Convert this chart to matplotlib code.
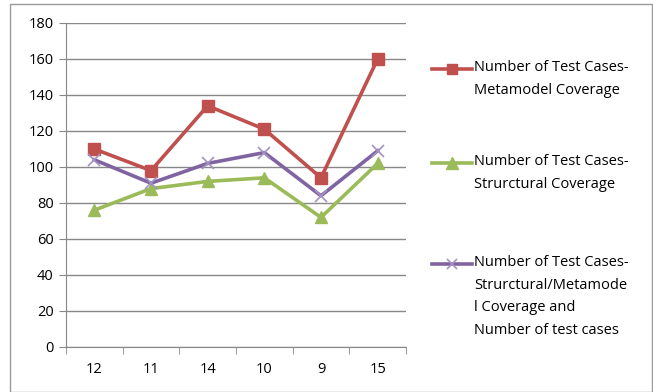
import numpy as np
import matplotlib
matplotlib.use("Agg")
import matplotlib.pyplot as plt
from matplotlib.lines import Line2D
from matplotlib.patches import Rectangle

categories = ["12", "11", "14", "10", "9", "15"]
metamodel = [110, 98, 134, 121, 94, 160]
structural = [76, 88, 92, 94, 72, 102]
combined = [104, 91, 102, 108, 84, 109]

labels = [
    "Number of Test Cases-\nMetamodel Coverage",
    "Number of Test Cases-\nStrurctural Coverage",
    "Number of Test Cases-\nStrurctural/Metamode\nl Coverage and\nNumber of test cases",
]

plt.rcParams["font.family"] = ["Open Sans", "DejaVu Sans"]

fig = plt.figure(figsize=(6.53, 3.92), dpi=100)
ax = fig.add_axes([66 / 653, 1 - 347 / 392, 340 / 653, 324 / 392])

x = np.arange(len(categories))
colors = ["#C0504D", "#9BBB59", "#8064A2"]
markers = [
    dict(marker="s", markersize=8, mec="#C0504D"),
    dict(marker="^", markersize=9, mec="#9BBB59"),
    dict(marker="x", markersize=8, mec="#A393C4", mew=1.2),
]
for vals, c, mk in zip([metamodel, structural, combined], colors, markers):
    ax.plot(x, vals, lw=2.6, color=c, solid_joinstyle="round", **mk)

ax.set_xlim(-0.5, 5.5)
ax.set_ylim(0, 180)
ax.set_yticks(range(0, 181, 20))
ax.set_xticks(x)
ax.set_xticklabels(categories)
ax.set_xticks(np.arange(-0.5, 6, 1), minor=True)
ax.tick_params(axis="x", which="major", length=0, pad=11, labelsize=10.5)
ax.tick_params(axis="x", which="minor", length=5, color="#888888")
ax.tick_params(axis="y", length=5, color="#888888", labelsize=10.5, pad=4)
ax.grid(axis="y", color="#888888", lw=1)
ax.set_axisbelow(True)
for side in ["top", "right"]:
    ax.spines[side].set_visible(False)
for side in ["left", "bottom"]:
    ax.spines[side].set_color("#888888")

# legend drawn by hand so the marker sits on the first text line
for i, (lab, c, mk) in enumerate(zip(labels, colors, markers)):
    yy = 1 - [69, 163, 264][i] / 392
    fig.add_artist(Line2D([432 / 653, 472 / 653], [yy, yy], transform=fig.transFigure,
                          lw=2.6, color=c))
    small = dict(mk, markersize=mk["markersize"] - 1)
    fig.add_artist(Line2D([452 / 653], [yy], transform=fig.transFigure, lw=0,
                          color=c, **small))
    fig.text(474 / 653, yy + 9 / 392, lab, ha="left", va="top", fontsize=10.5,
             linespacing=1.7, transform=fig.transFigure)

fig.add_artist(Rectangle((10 / 653, 0), 642 / 653, 1 - 4 / 392, transform=fig.transFigure,
                         fill=False, ec="#999999", lw=1))

fig.savefig("out.png", dpi=100)
